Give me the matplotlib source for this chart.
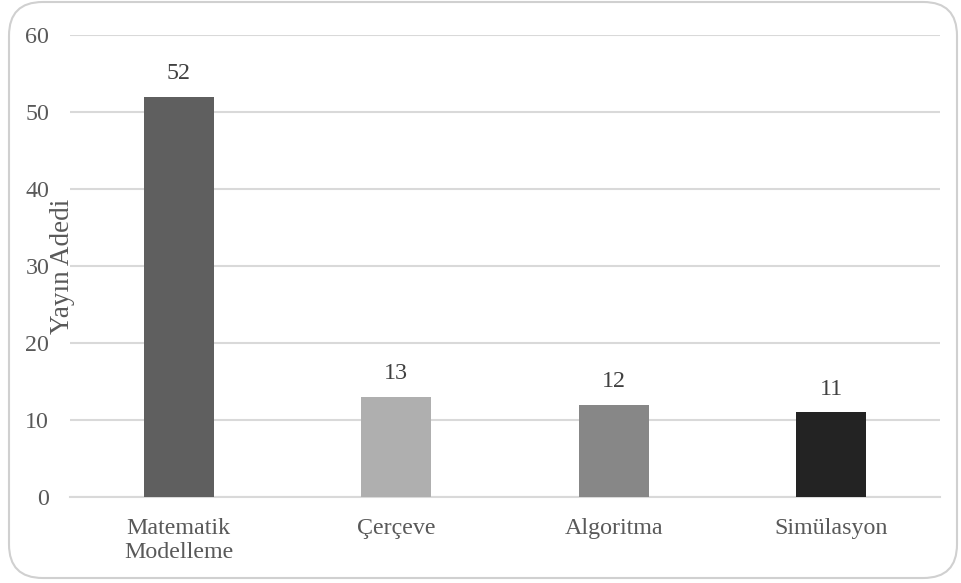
import matplotlib.pyplot as plt
from matplotlib.patches import FancyBboxPatch

plt.rcParams['font.family'] = ['Liberation Serif', 'DejaVu Serif']

categories = ["Matematik\nModelleme", "Çerçeve", "Algoritma", "Simülasyon"]
counts = [52, 13, 12, 11]
bar_colors = ["#5f5f5f", "#afafaf", "#878787", "#232323"]
yticks = [0, 10, 20, 30, 40, 50, 60]

text_color = "#595959"
grid_color = "#d9d9d9"

fig = plt.figure(figsize=(9.61, 5.83), dpi=100)
ax = fig.add_axes([70 / 961, 1 - 497 / 583, 870 / 961, 462 / 583])

x = range(len(categories))
bars = ax.bar(x, counts, width=0.32, color=bar_colors, zorder=3)

for rect, v in zip(bars, counts):
    ax.annotate(str(v), (rect.get_x() + rect.get_width() / 2, v),
                xytext=(0, 9), textcoords="offset points",
                ha="center", va="bottom", fontsize=17.3, color="#404040")

ax.set_xlim(-0.5, len(categories) - 0.5)
ax.set_ylim(0, 60)
ax.set_yticks(yticks)
ax.set_xticks(list(x))
ax.set_xticklabels(categories, linespacing=1.2)
ax.tick_params(axis="y", length=0, pad=15, labelsize=17.3, labelcolor=text_color)
ax.tick_params(axis="x", length=0, pad=15, labelsize=17.3, labelcolor=text_color)
ax.grid(axis="y", color=grid_color, linewidth=1.5, zorder=0)
for side in ["top", "right", "left"]:
    ax.spines[side].set_visible(False)
ax.spines["bottom"].set_color(grid_color)
ax.spines["bottom"].set_linewidth(1.5)

ax.set_ylabel("Yayın Adedi", fontsize=19.5, color=text_color)
ax.yaxis.set_label_coords(5 / 870, 0.5)

# rounded frame around the whole chart
frame = FancyBboxPatch((9 / 961, 5 / 583), 948 / 961, 576 / 583,
                       boxstyle="round,pad=0,rounding_size=0.035",
                       transform=fig.transFigure, facecolor="none",
                       edgecolor="#d0d0d0", linewidth=1.5,
                       mutation_aspect=961 / 583)
fig.patches.append(frame)

fig.savefig("out.png", dpi=100)
